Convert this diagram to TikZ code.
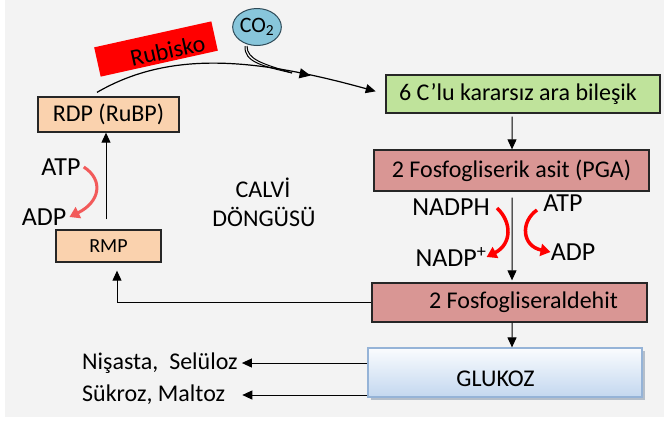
\documentclass[tikz,border=0pt]{standalone}
\usepackage{fontspec}
\setmainfont{Carlito}
\usetikzlibrary{arrows.meta,decorations.markings,shadows,shapes.geometric}
\definecolor{bggray}{HTML}{F3F3F3}
\definecolor{boxgreen}{HTML}{BFE39B}
\definecolor{boxrose}{HTML}{D99694}
\definecolor{boxpeach}{HTML}{FAD2AE}
\definecolor{glutop}{HTML}{FAFCFE}
\definecolor{glubot}{HTML}{C3D7EF}
\definecolor{gluedge}{HTML}{95B3D7}
\definecolor{glushadow}{HTML}{8A9BB0}
\definecolor{co2fill}{HTML}{88C6DB}
\definecolor{co2edge}{HTML}{2E4A58}
\definecolor{softred}{HTML}{F25A5A}
\newcommand{\lowertext}[2]{\vphantom{#2}\smash{\raisebox{-#1}{#2}}}
\begin{document}
\begin{tikzpicture}[x=1bp,y=-1bp,
  boxtext/.style={font=\fontsize{24bp}{28bp}\selectfont},
  lbl/.style={font=\fontsize{26bp}{30bp}\selectfont, inner sep=0pt},
  stagebox/.style={draw=black!85, line width=1.3bp, inner sep=0pt, boxtext},
  blackarrow/.style={line width=1bp, -{Triangle[length=10bp,width=9bp]}},
  redarrow/.style={line width=3.5bp, -{Triangle[length=10bp,width=12bp]}}
]
\useasboundingbox (0,0) rectangle (664,421);
\fill[white] (0,0) rectangle (664,421);
\fill[bggray] (5,0) rectangle (664,417);

% boxes
\node[stagebox, fill=boxpeach, minimum width=141bp, minimum height=35bp] (rdp) at (108.5,114.5) {RDP (RuBP)};
\node[stagebox, fill=boxpeach, minimum width=105bp, minimum height=32bp, font=\fontsize{20bp}{24bp}\selectfont] (rmp) at (108.5,246) {RMP};
\node[stagebox, fill=boxgreen, minimum width=274bp, minimum height=38bp] (ara) at (523,94) {6 C’lu kararsız ara bileşik\hspace*{10bp}};
\node[stagebox, fill=boxrose, minimum width=275bp, minimum height=41bp] (pga) at (511.5,170.5) {2 Fosfogliserik asit (PGA)};
\node[stagebox, fill=boxrose, minimum width=275bp, minimum height=39bp] (ald) at (509.5,302.5) {\hspace*{28bp}2 Fosfogliseraldehit};
\node[draw=gluedge, line width=1.2bp, top color=glutop, bottom color=glubot, inner sep=0pt,
      minimum width=274bp, minimum height=49bp, boxtext,
      drop shadow={shadow xshift=3bp, shadow yshift=-3bp, fill=glushadow, opacity=0.6}] (glu) at (505,372.5) {\lowertext{6bp}{GLUKOZ}\hspace*{19bp}};

% Rubisko and CO2
\node[fill=red, rotate=12.5, minimum width=120bp, minimum height=30bp, inner sep=0pt, boxtext] (rub) at (156,49) {\hspace*{22bp}\lowertext{4bp}{Rubisko}};
\node[draw=co2edge, line width=1bp, fill=co2fill, ellipse, minimum width=42bp, minimum height=37bp, inner sep=0pt, font=\fontsize{22bp}{26bp}\selectfont] (co2) at (257,27) {CO\textsubscript{2}};
\coordinate (join) at (292,73);

% main curve with mid arrow
\draw[line width=1.2bp, shorten >=10bp, -{Triangle[length=10bp,width=9bp]},
  postaction={decorate},
  decoration={markings, mark=at position 0.74 with {\arrow{Triangle[length=11bp,width=10bp]}}}]
  ([xshift=-11.5bp,yshift=4bp]rdp.north) .. controls (170,50) and (255,58) .. (ara.west);
\draw[line width=1bp] ([xshift=-12bp]co2.south) .. controls (244,62) and (262,66) .. (join);
\draw[line width=1bp] ([xshift=-10bp]co2.south) .. controls (247,60) and (264,64) .. (join);

% vertical flow
\draw[blackarrow, shorten <=3bp] ([xshift=-11bp]ara.south) -- ([xshift=0.5bp]pga.north);
\draw[blackarrow, shorten <=6bp, shorten >=2bp] ([xshift=0.5bp]pga.south) -- ([xshift=2.5bp]ald.north);
\draw[blackarrow] ([xshift=2.5bp]ald.south) -- ([xshift=7bp]glu.north);
\draw[blackarrow, shorten >=8bp] (ald.west) -| ([xshift=8.5bp]rmp.south);
\draw[blackarrow, shorten <=10bp] ([xshift=-2.5bp]rmp.north) -- ([xshift=-2.5bp]rdp.south);

% products
\node[boxtext, anchor=west, inner sep=0pt] (nis) at (82,363) {Nişasta,\ \ Selüloz};
\node[boxtext, anchor=west, inner sep=0pt] (suk) at (82,395) {Sükroz, Maltoz};
\draw[blackarrow, shorten >=4bp] (glu.west |- nis.east) -- (nis.east);
\draw[blackarrow, shorten >=17bp] (glu.west |- suk.east) -- (suk.east);

% cycle label
\node[boxtext, inner sep=0pt] (calvi) at (263,188) {CALVİ};
\node[boxtext, inner sep=0pt] (dong) at (264,217) {DÖNGÜSÜ};

% energy labels left
\node[lbl] (atpl) at (61,167) {ATP};
\node[lbl] (adpl) at (44,217) {ADP};
\draw[redarrow, line width=3bp, softred] ([xshift=3bp]atpl.east) .. controls (104,180) and (100,202) .. ([xshift=3bp]adpl.east);

% energy labels right
\node[lbl] (nadph) at (451,207) {NADPH};
\node[lbl] (nadp) at (451,257) {NADP\textsuperscript{+}};
\node[lbl] (atpr) at (563,203) {ATP};
\node[lbl] (adpr) at (573,252) {ADP};
\draw[redarrow, red] (497,208) .. controls (512,222) and (512,244) .. (nadp.east);
\draw[redarrow, red] (537,210) .. controls (520,222) and (522,246) .. (adpr.west);
\end{tikzpicture}
\end{document}
